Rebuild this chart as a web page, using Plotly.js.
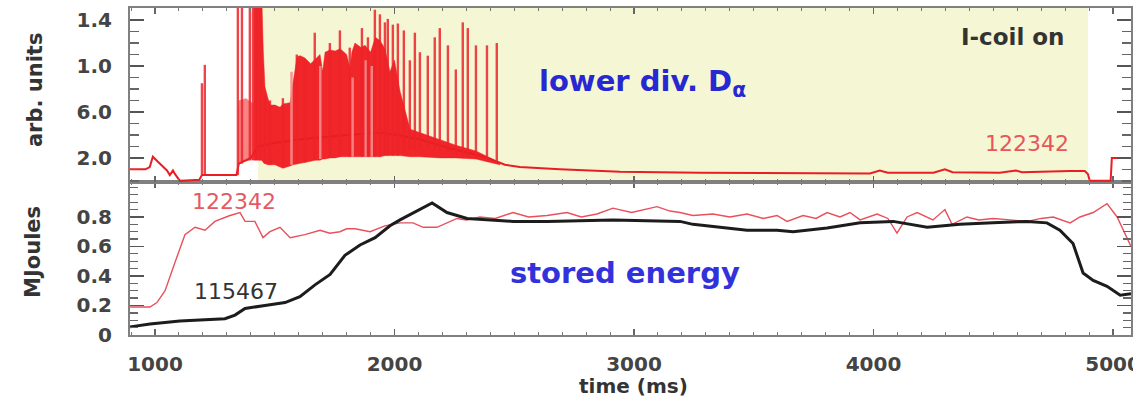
<!DOCTYPE html>
<html>
<head>
<meta charset="utf-8">
<script src="https://cdn.plot.ly/plotly-3.0.1.min.js"></script>
<style>html,body{margin:0;padding:0;background:#fff;}#chart{width:1133px;height:398px;}</style>
</head>
<body>
<div id="chart"></div>
<script>
// ---------- DATA ----------
// Top panel: lower divertor D-alpha (shot 122342), baseline signal
const daT = [895,960,978,991,1010,1030,1050,1062,1075,1083,1095,1104,1150,1185,1196,1216,1280,1340,1350,1400,1430,1500,1600,1700,1800,1940,2014,2106,2189,2256,2340,2400,2461,2523,2690,2941,3275,3525,3985,4026,4060,4250,4298,4330,4527,4594,4620,4819,4882,4895,4903,4990,4995,5075];
const daV = [0.10,0.10,0.12,0.21,0.17,0.13,0.09,0.05,0.09,0.06,0.02,0.0,0.005,0.01,0.05,0.05,0.05,0.05,0.15,0.20,0.30,0.33,0.36,0.38,0.40,0.42,0.40,0.36,0.31,0.27,0.23,0.19,0.14,0.12,0.10,0.08,0.07,0.07,0.065,0.09,0.07,0.07,0.10,0.075,0.07,0.09,0.075,0.085,0.085,0.06,0.0,0.0,0.2,0.2];
// Early ELM burst (pale band)
const earlyT    = [1346,1350,1380,1405,1412];
const earlyLow  = [0.05,0.15,0.17,0.18,0.18];
const earlyHigh = [0.62,0.70,0.72,0.68,0.68];
// Dense ELM region envelope (solid red)
const denseT    = [1412,1446,1452,1459,1470,1480,1501,1522,1534,1564,1576,1593,1606,1626,1650,1668,1689,1700,1710,1730,1752,1773,1800,1814,1822,1835,1860,1877,1900,1920,1940,1960,1981,2000,2023,2065,2107,2190,2256,2340,2400,2440];
const denseLow  = [0.18,0.18,0.16,0.15,0.14,0.14,0.14,0.12,0.11,0.13,0.14,0.15,0.15,0.16,0.17,0.18,0.18,0.19,0.19,0.20,0.20,0.21,0.21,0.21,0.21,0.21,0.21,0.21,0.21,0.21,0.21,0.22,0.22,0.22,0.22,0.21,0.21,0.20,0.20,0.19,0.16,0.14];
const denseHigh = [1.60,1.60,1.14,0.82,0.73,0.66,0.66,0.64,0.67,0.68,0.85,1.08,1.09,1.07,1.02,1.06,1.10,0.95,1.12,1.14,1.13,1.15,1.10,0.98,1.12,1.20,1.16,1.18,1.12,1.25,1.22,1.15,0.95,1.05,0.78,0.45,0.42,0.36,0.31,0.26,0.20,0.15];
// Pale streaks inside the dense region
const paleT    = [1570,1690,1825,1880,1905];
const paleLow  = [0.14,0.19,0.21,0.21,0.21];
const palePeak = [0.95,1.00,0.90,1.05,1.00];
// Individual ELM spikes
const elmT    = [1196,1208,1346,1363,1396,1409,1425,1440,1459,1480,1534,1592,1626,1667,1730,1772,1813,1864,1889,1918,1939,1960,1972,1993,2014,2039,2064,2085,2106,2139,2168,2189,2223,2256,2285,2306,2340,2386,2427];
const elmBase = [0.05,0.05,0.05,0.15,0.18,0.18,0.20,0.18,0.15,0.14,0.12,0.15,0.16,0.18,0.20,0.21,0.21,0.21,0.21,0.21,0.21,0.22,0.22,0.22,0.22,0.25,0.27,0.28,0.28,0.28,0.27,0.26,0.25,0.23,0.22,0.21,0.20,0.17,0.15];
const elmPeak = [0.85,1.01,1.60,1.60,1.60,1.60,1.60,1.60,0.75,0.70,0.72,1.10,1.05,1.29,1.20,1.31,1.16,1.33,1.25,1.49,1.45,1.38,1.41,1.36,1.37,1.31,1.05,1.29,1.12,1.09,1.25,1.33,1.18,0.97,1.38,1.33,1.18,1.18,1.20];
// I-coil on interval (ms)
const icoilOn = [1430, 4895];

// Bottom panel: stored energy (MJ)
const w122342T = [896,979,1008,1042,1083,1125,1167,1209,1250,1313,1355,1376,1417,1451,1480,1522,1564,1626,1689,1730,1772,1800,1835,1898,1960,2023,2077,2120,2177,2261,2300,2357,2420,2495,2560,2637,2720,2780,2845,2912,2990,3096,3150,3192,3246,3330,3400,3472,3540,3597,3639,3706,3760,3806,3860,3902,3944,4015,4060,4098,4140,4182,4248,4298,4328,4390,4440,4499,4570,4641,4700,4750,4821,4862,4917,4975,5017,5058,5075];
const w122342V = [0.19,0.19,0.22,0.30,0.49,0.68,0.73,0.71,0.77,0.81,0.83,0.77,0.77,0.66,0.70,0.73,0.66,0.68,0.71,0.69,0.70,0.72,0.72,0.70,0.74,0.76,0.76,0.73,0.73,0.79,0.78,0.80,0.79,0.83,0.80,0.81,0.83,0.80,0.82,0.86,0.83,0.87,0.84,0.83,0.81,0.82,0.80,0.82,0.79,0.81,0.77,0.81,0.79,0.83,0.80,0.83,0.78,0.82,0.79,0.69,0.80,0.83,0.78,0.85,0.75,0.80,0.78,0.79,0.78,0.77,0.79,0.80,0.76,0.80,0.83,0.89,0.80,0.66,0.60];
const w115467T = [896,979,1104,1188,1292,1334,1376,1459,1543,1605,1668,1731,1793,1856,1919,1981,2023,2157,2219,2303,2495,2637,2912,3192,3246,3472,3597,3664,3806,3944,4082,4224,4361,4499,4641,4724,4778,4833,4875,4917,4975,5030,5075];
const w115467V = [0.055,0.075,0.095,0.10,0.11,0.135,0.18,0.20,0.22,0.26,0.34,0.41,0.54,0.61,0.66,0.74,0.78,0.895,0.83,0.79,0.77,0.77,0.78,0.77,0.75,0.71,0.71,0.70,0.725,0.76,0.77,0.73,0.75,0.76,0.77,0.76,0.71,0.62,0.42,0.37,0.33,0.27,0.28];

// Tick labels
const xTicks = [1000,2000,3000,4000,5000];
const topTickVals = [0.2,0.6,1.0,1.4];
const topTickText = ['2.0','6.0','1.0','1.4'];
const botTickVals = [0,0.2,0.4,0.6,0.8];
const botTickText = ['0','0.2','0.4','0.6','0.8'];

// ---------- BUILD ----------
function segs(ts, lo, hi){ const X=[],Y=[]; ts.forEach((t,i)=>{X.push(t,t,null);Y.push(lo[i],hi[i],null);}); return {X,Y}; }
function band(ts, lo, hi){ return {X: ts.concat(ts.slice().reverse()), Y: hi.concat(lo.slice().reverse())}; }
const spk = segs(elmT, elmBase, elmPeak);
const pale = segs(paleT, paleLow, palePeak);
const dense = band(denseT, denseLow, denseHigh);
const early = band(earlyT, earlyLow, earlyHigh);

const traces = [
  {x: early.X, y: early.Y, xaxis:'x2', yaxis:'y2', mode:'lines', fill:'toself',
   fillcolor:'rgba(244,110,110,0.85)', line:{width:0}, hoverinfo:'skip', showlegend:false},
  {x: dense.X, y: dense.Y, xaxis:'x2', yaxis:'y2', mode:'lines', fill:'toself',
   fillcolor:'rgba(240,20,25,0.92)', line:{width:0.5, color:'rgba(240,20,25,0.9)'}, hoverinfo:'skip', showlegend:false},
  {x: daT, y: daV, xaxis:'x2', yaxis:'y2', mode:'lines', line:{color:'rgb(232,30,35)', width:2}, showlegend:false},
  {x: pale.X, y: pale.Y, xaxis:'x2', yaxis:'y2', mode:'lines', connectgaps:false,
   line:{color:'rgba(246,140,140,0.9)', width:2.5}, showlegend:false},
  {x: spk.X, y: spk.Y, xaxis:'x2', yaxis:'y2', mode:'lines', connectgaps:false,
   line:{color:'rgba(236,35,42,0.85)', width:2.4}, showlegend:false},
  {x: w122342T, y: w122342V, xaxis:'x', yaxis:'y', mode:'lines', line:{color:'rgb(232,80,92)', width:1.4}, showlegend:false},
  {x: w115467T, y: w115467V, xaxis:'x', yaxis:'y', mode:'lines', line:{color:'rgb(28,28,28)', width:3}, showlegend:false}
];

const tickFont = {family:'DejaVu Sans', size:20, color:'#444', weight:'bold'};
const xCommon = {
  range:[895.6, 5075], tickmode:'array', tickvals:xTicks, ticks:'inside', ticklen:6, tickwidth:1.5, tickcolor:'#666',
  minor:{tickmode:'linear', tick0:0, dtick:100, ticklen:3, tickwidth:1, tickcolor:'#777', ticks:'inside', showgrid:false},
  showline:true, linecolor:'#808080', linewidth:2, mirror:'ticks', showgrid:false, zeroline:false
};
function ann(text, x, y, size, color, extra){
  return Object.assign({text, xref:'paper', yref:'paper', x, y, xanchor:'center', yanchor:'middle', showarrow:false,
    font:{family:'DejaVu Sans', size, color}}, extra||{});
}
const layout = {
  width:1133, height:398,
  margin:{l:130, r:2, t:8, b:63},
  paper_bgcolor:'#fff', plot_bgcolor:'#fff',
  showlegend:false,
  xaxis: Object.assign({}, xCommon, {anchor:'y', domain:[0,1], tickfont:tickFont, ticklabelstandoff:10, ticklabeloverflow:'allow'}),
  xaxis2: Object.assign({}, xCommon, {anchor:'y2', domain:[0,1], matches:'x', showticklabels:false}),
  yaxis: {domain:[0,0.4679], range:[0,1.037], tickmode:'array', tickvals:botTickVals, ticktext:botTickText,
    ticks:'inside', ticklen:14, tickwidth:1.5, tickcolor:'#555',
    minor:{tickmode:'linear', tick0:0, dtick:0.05, ticklen:8, tickwidth:1.3, tickcolor:'#666', ticks:'inside', showgrid:false},
    showline:true, linecolor:'#808080', linewidth:2, mirror:'ticks', showgrid:false, zeroline:false,
    tickfont:tickFont, ticklabelstandoff:12, ticklabeloverflow:'allow'},
  yaxis2: {domain:[0.4679,1], range:[-0.01,1.505], tickmode:'array', tickvals:topTickVals, ticktext:topTickText,
    ticks:'inside', ticklen:14, tickwidth:1.5, tickcolor:'#555',
    minor:{tickmode:'linear', tick0:0, dtick:0.1, ticklen:9, tickwidth:1.3, tickcolor:'#666', ticks:'inside', showgrid:false},
    showline:true, linecolor:'#808080', linewidth:2, mirror:'ticks', showgrid:false, zeroline:false,
    tickfont:tickFont, ticklabelstandoff:12},
  shapes:[
    {type:'rect', xref:'x2', yref:'y2 domain', x0:icoilOn[0], x1:icoilOn[1], y0:0, y1:1,
     fillcolor:'#f5f6d4', line:{width:0}, layer:'below'}
  ],
  annotations:[
    ann('<b>I-coil on</b>', 0.882, 0.911, 23, '#333'),
    ann('<b>lower div. D<sub>α</sub></b>', 0.5115, 0.77, 29, 'rgb(40,40,210)'),
    ann('122342', 0.896, 0.587, 22, 'rgb(232,85,90)'),
    ann('122342', 0.104, 0.407, 22, 'rgb(228,90,100)'),
    ann('115467', 0.106, 0.1315, 22, '#333'),
    ann('<b>stored energy</b>', 0.4945, 0.19, 29, 'rgb(50,50,220)'),
    ann('<b>arb. units</b>', -0.0949, 0.749, 21, '#333', {textangle:-90}),
    ann('<b>MJoules</b>', -0.0969, 0.254, 21, '#333', {textangle:-90}),
    ann('<b>time (ms)</b>', 0.5025, -0.155, 20, '#333')
  ]
};
Plotly.newPlot('chart', traces, layout, {displayModeBar:false, staticPlot:true});
</script>
</body>
</html>
